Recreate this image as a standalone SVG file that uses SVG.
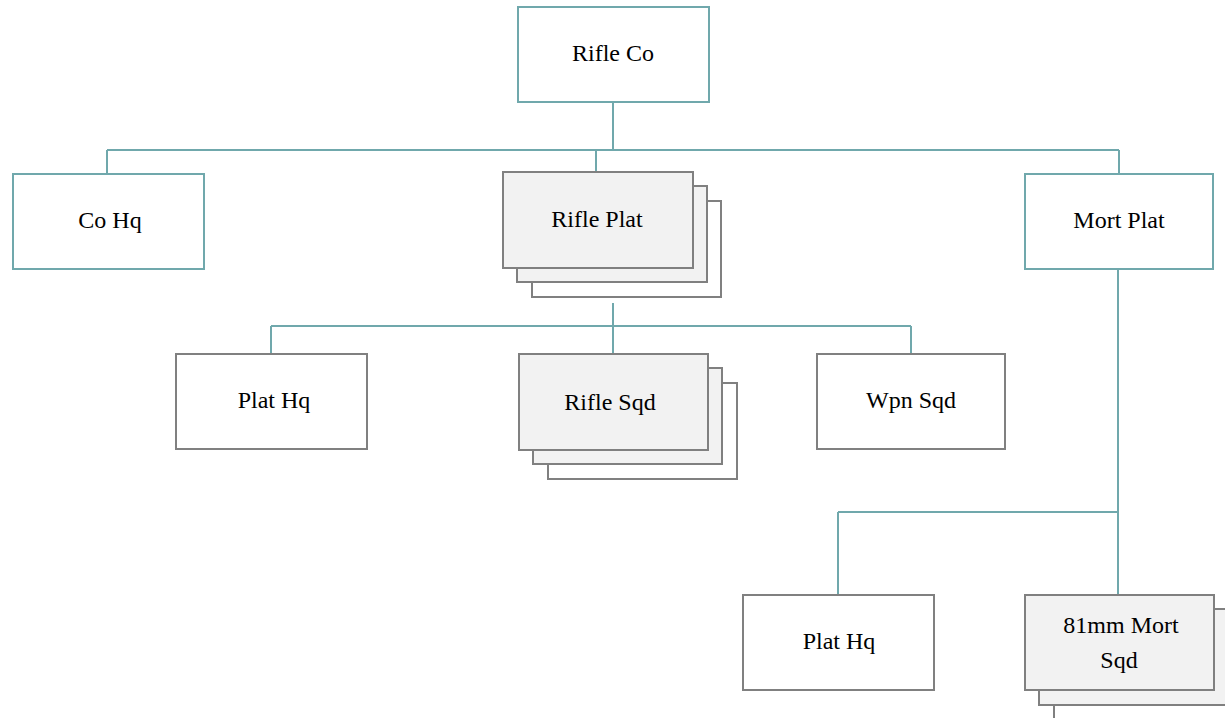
<svg xmlns="http://www.w3.org/2000/svg" width="1225" height="718" viewBox="0 0 1225 718">
<style>
.t{fill:#fff;stroke:#70a8ac;stroke-width:2}
.g{fill:#fff;stroke:#808080;stroke-width:2}
.s{fill:#f2f2f2;stroke:#808080;stroke-width:2}
.c{fill:none;stroke:#70a8ac;stroke-width:2}
text{font-family:"Liberation Serif",serif;font-size:24px;fill:#000;text-anchor:middle}
</style>
<rect width="1225" height="718" fill="#fff"/>
<g id="connectors">
<path class="c" d="M613 102V150M107 150H1119M107 150V174M596 150V172M1119 150V174"/>
<path class="c" d="M613 303V354M271 326H911M271 326V354M911 326V354"/>
<path class="c" d="M1118 269V595M838 512H1118M838 512V595"/>
</g>
<g id="rifle-co"><rect class="t" x="518" y="7" width="191" height="95"/><text x="613" y="61">Rifle Co</text></g>
<g id="co-hq"><rect class="t" x="13" y="174" width="191" height="95"/><text x="110" y="228">Co Hq</text></g>
<g id="rifle-plat">
<rect class="g" x="532" y="201" width="189" height="96"/>
<rect class="s" x="517" y="186" width="190" height="96"/>
<rect class="s" x="503" y="172" width="190" height="96"/>
<text x="597" y="227">Rifle Plat</text></g>
<g id="mort-plat"><rect class="t" x="1025" y="174" width="188" height="95"/><text x="1119" y="228">Mort Plat</text></g>
<g id="plat-hq-1"><rect class="g" x="176" y="354" width="191" height="95"/><text x="274" y="408">Plat Hq</text></g>
<g id="rifle-sqd">
<rect class="g" x="548" y="383" width="189" height="96"/>
<rect class="s" x="533" y="368" width="189" height="96"/>
<rect class="s" x="519" y="354" width="189" height="96"/>
<text x="610" y="410">Rifle Sqd</text></g>
<g id="wpn-sqd"><rect class="g" x="817" y="354" width="188" height="95"/><text x="911" y="408">Wpn Sqd</text></g>
<g id="plat-hq-2"><rect class="g" x="743" y="595" width="191" height="95"/><text x="839" y="649">Plat Hq</text></g>
<g id="mort-sqd">
<rect class="g" x="1054" y="623" width="189" height="96"/>
<rect class="s" x="1039" y="609" width="189" height="96"/>
<rect class="s" x="1025" y="595" width="189" height="95"/>
<text x="1121" y="633">81mm Mort</text><text x="1119" y="668">Sqd</text></g>
</svg>
